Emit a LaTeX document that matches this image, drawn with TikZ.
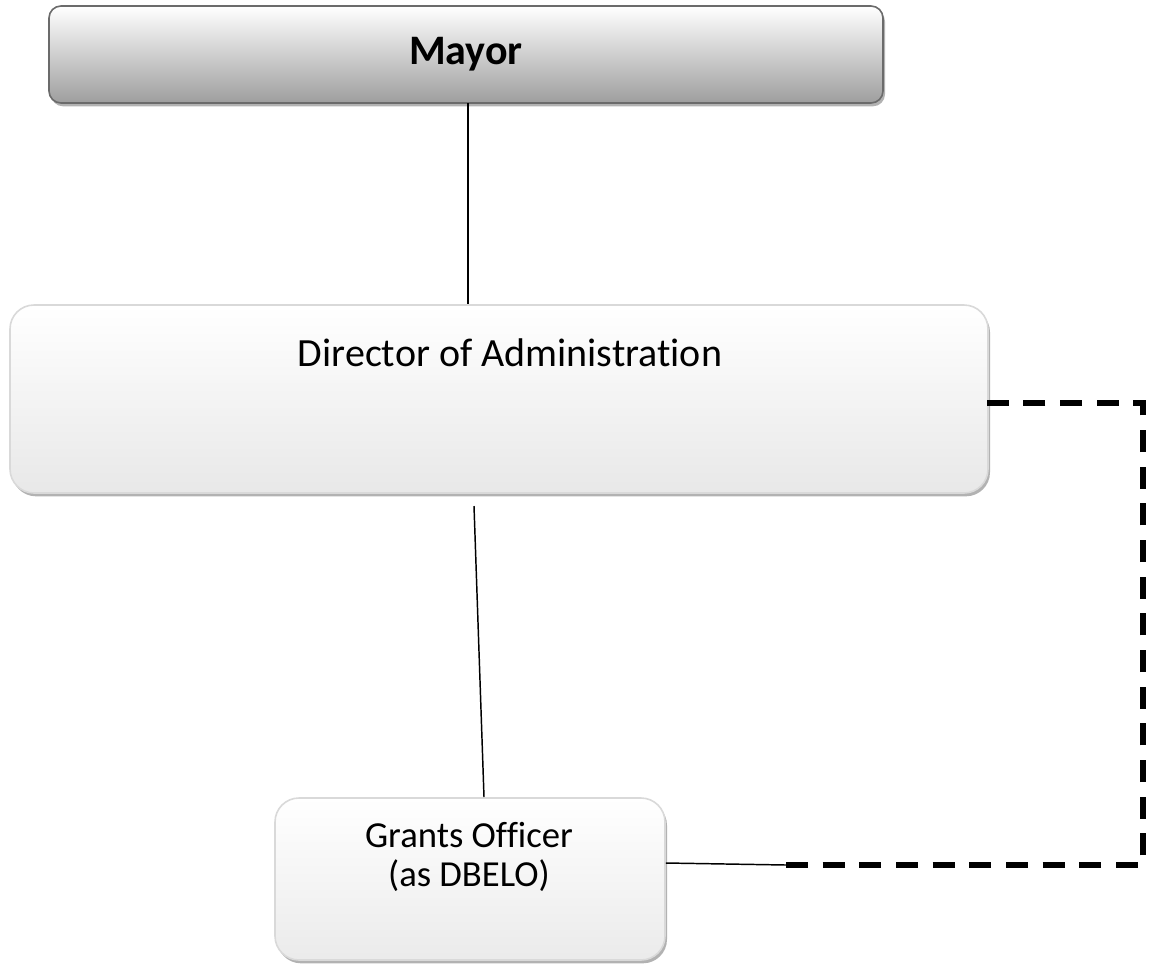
\documentclass[tikz,border=0pt]{standalone}
\usepackage{fontspec}
\setmainfont{Carlito}[Ligatures=NoCommon]
\usetikzlibrary{positioning,shadows,calc}

\begin{document}
\begin{tikzpicture}[x = .75pt, y = -.75pt,
  box/.style = {draw, line width = 1.2pt, rounded corners = 18pt,
    drop shadow = {shadow xshift = 1.5pt, shadow yshift = -2.5pt, fill = black!30, opacity = 1}},
  link/.style = {line width = 1.1pt},
  dotted link/.style = {line width = 3.8pt, dash pattern = on 16.5pt off 11pt}]
\useasboundingbox (0,0) rectangle (1160,968);
\node[box, draw = black!58, top color = white, bottom color = black!38, rounded corners = 9pt,
  minimum width = 625.5pt, minimum height = 72.75pt, font = \bfseries\fontsize{31.5}{36}\selectfont] (mayor) at (466,54.5) {Mayor};
\node[box, draw = black!15, top color = white, bottom color = black!9,
  minimum width = 733.5pt, minimum height = 141pt] (dir) at (499,399) {};
\node[font = \fontsize{30}{36}\selectfont] (dirtext) at (510,353) {Director of Administration};
\node[box, draw = black!15, top color = white, bottom color = black!8,
  minimum width = 292.5pt, minimum height = 121.5pt] (grants) at (470,879) {};
\node[font = \fontsize{27.5}{29.5}\selectfont, align = center] (grantstext) at (469,857) {Grants Officer\\(as DBELO)};
\coordinate (m) at (468,103);
\coordinate (d) at (474,506);
\coordinate (g) at (484,797);
\coordinate (j) at (786,865);
\coordinate (k) at (1143,403);
\coordinate (e) at (980,403);
\draw[link] (m) -- (m |- dir.north);
\draw[link] (d) -- (g);
\draw[link] (grants.east |- 0,863) -- (j);
\draw[dotted link] (j) -| (k) -- (e);
\end{tikzpicture}
\end{document}
